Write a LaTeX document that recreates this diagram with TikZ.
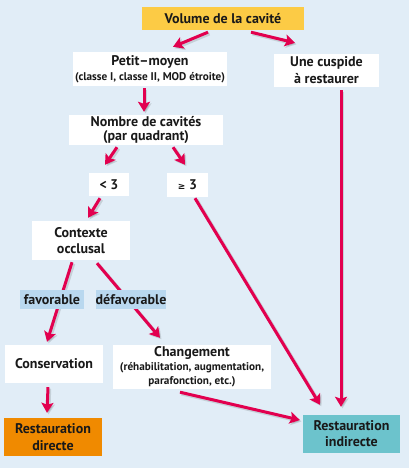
\documentclass[tikz,border=0pt]{standalone}
\usepackage{fontspec}
\setmainfont{PT Sans}
\newfontfamily\symfont{DejaVu Sans}
\usetikzlibrary{arrows.meta}
\definecolor{bgblue}{HTML}{E1EDF7}
\definecolor{volfill}{HTML}{FCCB45}
\definecolor{labblue}{HTML}{B9D8EF}
\definecolor{rdfill}{HTML}{F08A00}
\definecolor{rifill}{HTML}{6CC3CC}
\definecolor{arrred}{HTML}{E2004F}
\tikzset{
  box/.style={fill=white, inner sep=0pt, align=center, font=\bfseries\fontsize{14}{16}\selectfont, text=black!90},
  lab/.style={fill=labblue, inner sep=0pt, align=center, font=\bfseries\fontsize{14}{16}\selectfont, text=black!90},
  arr/.style={draw=arrred, line width=3pt, -{Stealth[length=10pt,width=12pt,inset=2pt]}},
  shd/.style={draw=black, opacity=0.12, line width=3.5pt, -{Stealth[length=10pt,width=12pt,inset=2pt]}},
}
\newcommand{\subt}[1]{{\fontsize{11.2}{12}\selectfont #1}}
\begin{document}
\begin{tikzpicture}[x=1pt,y=-1pt]
\useasboundingbox (0,0) rectangle (409,468);
\fill[bgblue] (0,0) rectangle (409,468);

\node[box, fill=volfill, minimum width=162pt, minimum height=23pt] (vol) at (223,18.5) {Volume de la cavité};
\node[box, minimum width=154pt, minimum height=34pt] (pm) at (150,69) {Petit--moyen\\[-1pt]\subt{(classe I, classe II, MOD étroite)}};
\node[box, minimum width=105pt, minimum height=33pt] (cusp) at (326.5,70.5) {Une cuspide\\[1pt]à restaurer};
\node[box, minimum width=154pt, minimum height=30pt] (nb) at (146,130) {Nombre de cavités\\[-2pt](par quadrant)};
\node[box, minimum width=40pt, minimum height=23pt] (lt) at (109,184.5) {< 3};
\node[box, minimum width=41pt, minimum height=24pt] (ge) at (187.5,185) {{\symfont\fontsize{9}{10}\selectfont ≥} 3};
\node[box, minimum width=98pt, minimum height=39pt] (ctx) at (81,240.5) {Contexte\\occlusal};
\node[box, minimum width=98pt, minimum height=38pt] (cons) at (54,364) {Conservation};
\node[box, minimum width=158pt, minimum height=44pt] (chg) at (192,367) {Changement\\[-2pt]\subt{(réhabilitation, augmentation,}\\[-2pt]\subt{parafonction, etc.)}};
\node[box, fill=rdfill, minimum width=98pt, minimum height=38pt] (rd) at (53,437) {Restauration\\[1pt]directe};
\node[box, fill=rifill, minimum width=97pt, minimum height=38pt] (ri) at (351.5,434) {Restauration\\indirecte};

\def\arrows#1#2{%
\draw[#1] ([shift={(-15+#2,2+#2)}]vol.south) -- ([shift={(23+#2,-5+#2)}]pm.north);
\draw[#1] ([shift={(28+#2,2+#2)}]vol.south) -- ([shift={(-31.5+#2,-11+#2)}]cusp.north);
\draw[#1] ([shift={(-6+#2,2+#2)}]pm.south) -- ([shift={(-2+#2,-3+#2)}]nb.north);
\draw[#1] ([shift={(-29+#2,2+#2)}]nb.south) -- ([shift={(-4+#2,-8+#2)}]lt.north);
\draw[#1] ([shift={(27+#2,2+#2)}]nb.south) -- ([shift={(-2.5+#2,-8+#2)}]ge.north);
\draw[#1] ([shift={(-9+#2,2+#2)}]lt.south) -- ([shift={(7+#2,-3+#2)}]ctx.north);
\draw[#1] ([shift={(7.5+#2,1+#2)}]ge.south) -- ([shift={(-31.5+#2,-10+#2)}]ri.north);
\draw[#1] ([shift={(14.5+#2,3+#2)}]cusp.south) -- ([shift={(-10.5+#2,-8+#2)}]ri.north);
\draw[#1] ([shift={(-9+#2,2+#2)}]ctx.south) -- ([shift={(-7+#2,-3+#2)}]cons.north);
\draw[#1] ([shift={(16+#2,3+#2)}]ctx.south) -- ([shift={(-32+#2,-7+#2)}]chg.north);
\draw[#1] ([shift={(-6+#2,4+#2)}]cons.south) -- ([shift={(-6+#2,-5+#2)}]rd.north);
\draw[#1] ([shift={(-12+#2,3+#2)}]chg.south) -- ([shift={(-3+#2,-14+#2)}]ri.west);
}
\arrows{shd}{1.5}
\arrows{arr}{0}

\node[lab, minimum width=64pt, minimum height=19pt] (fav) at (52,299.5) {favorable};
\node[lab, minimum width=70pt, minimum height=19pt] (dfav) at (131,299.5) {défavorable};
\end{tikzpicture}
\end{document}
